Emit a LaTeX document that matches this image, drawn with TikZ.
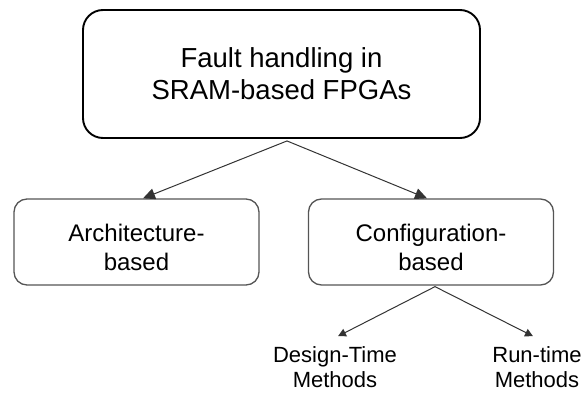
\documentclass[tikz,border=0pt]{standalone}
\usepackage{fontspec}
\setmainfont{Liberation Sans}
\usetikzlibrary{arrows.meta}
\definecolor{boxgray}{HTML}{555555}
\definecolor{linkgray}{HTML}{333333}
\tikzset{
  rootbox/.style={draw=black, line width=1.9pt, rounded corners=20pt,
    minimum width=397pt, minimum height=128pt, align=center,
    font=\fontsize{27.5}{32}\selectfont},
  catbox/.style={draw=boxgray, line width=1.3pt, rounded corners=13pt,
    minimum width=245pt, minimum height=86pt},
  cattext/.style={align=center, inner sep=0pt, font=\fontsize{24}{29}\selectfont},
  leaf/.style={align=center, inner sep=0pt, font=\fontsize{22}{25}\selectfont},
  link/.style={draw=linkgray, line width=1pt, -{Triangle[length=12pt,width=11pt]}},
  sublink/.style={draw=linkgray, line width=1pt, -{Triangle[length=8pt,width=8pt]}}
}
\begin{document}
\begin{tikzpicture}[x=1pt,y=-1pt]
\useasboundingbox (0,0) rectangle (584,393);

\node[rootbox] (root) at (281.5,74) {Fault handling in\\SRAM-based FPGAs};
\node[catbox] (arch) at (136.5,242) {};
\node[cattext] (archtext) at (136.5,247) {Architecture-\\based};
\node[catbox] (conf) at (431,242) {};
\node[cattext] (conftext) at (431,247) {Configuration-\\based};
\node[leaf] (design) at (335,367) {Design-Time\\Methods};
\node[leaf] (run) at (537,367) {Run-time\\Methods};

% branch points and arrow ends
\coordinate (rootfork) at ([xshift=5.5pt,yshift=-2pt]root.south);
\coordinate (archin) at ([xshift=6.5pt]arch.north);
\coordinate (confin) at ([xshift=-4pt]conf.north);
\coordinate (conffork) at ([xshift=4pt,yshift=-1pt]conf.south);
\coordinate (designin) at ([xshift=3pt,yshift=10pt]design.north);
\coordinate (runin) at ([xshift=-4pt,yshift=10pt]run.north);

\draw[link] (rootfork) -- (archin);
\draw[link] (rootfork) -- (confin);
\draw[sublink] (conffork) -- (designin);
\draw[sublink] (conffork) -- (runin);
\end{tikzpicture}
\end{document}
